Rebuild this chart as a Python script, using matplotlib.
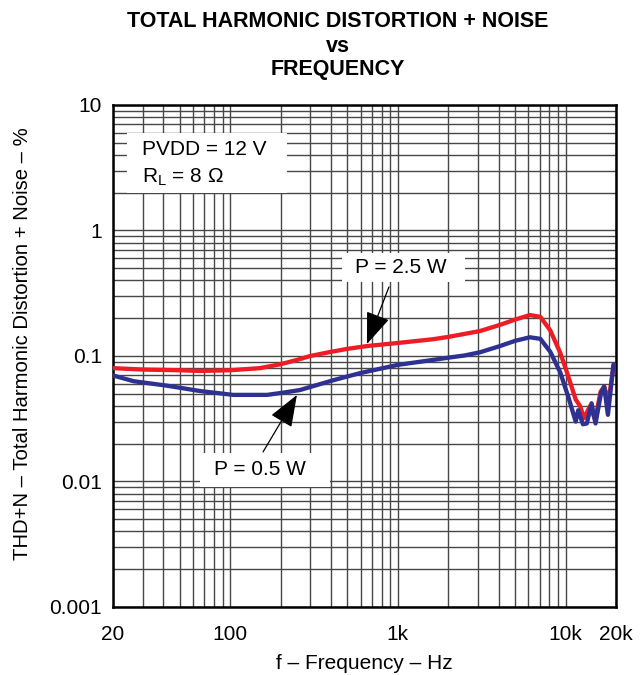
import matplotlib
matplotlib.use('Agg')
import matplotlib.pyplot as plt
from matplotlib.patches import Rectangle
from matplotlib.ticker import FixedLocator, NullFormatter

plt.rcParams['font.family'] = ['Liberation Sans', 'DejaVu Sans']

# THD+N vs frequency
freq_2w5 = [20, 30, 50, 66, 100, 150, 200, 250, 300, 400, 500, 654, 1000,
            1618, 2000, 3085, 4064, 5000, 6130, 7077, 8110, 9300, 10200,
            11500, 12200, 12900, 14000, 15000, 16200, 17000, 17800, 18500,
            19400, 20000]
thd_2w5 = [0.080, 0.078, 0.077, 0.076, 0.077, 0.080, 0.086, 0.093, 0.100,
           0.108, 0.114, 0.120, 0.127, 0.136, 0.142, 0.158, 0.177, 0.195,
           0.212, 0.205, 0.160, 0.106, 0.074, 0.045, 0.040, 0.032, 0.040,
           0.031, 0.052, 0.057, 0.045, 0.055, 0.085, 0.080]

freq_0w5 = [20, 26.5, 42, 66, 104, 166, 206, 260, 410, 594, 1000, 1618,
            2000, 2500, 3085, 4064, 5000, 6130, 7077, 8110, 9300, 10400,
            11500, 11900, 12700, 13400, 14300, 15100, 16300, 17000, 17900,
            19300, 20000]
thd_0w5 = [0.070, 0.063, 0.058, 0.0526, 0.049, 0.049, 0.051, 0.0535, 0.064,
           0.073, 0.085, 0.093, 0.097, 0.101, 0.107, 0.120, 0.132, 0.141,
           0.137, 0.108, 0.074, 0.047, 0.030, 0.037, 0.0286, 0.029, 0.042,
           0.029, 0.051, 0.057, 0.034, 0.085, 0.080]

x_ticks = [20, 100, 1000, 10000, 20000]
x_labels = ['20', '100', '1k', '10k', '20k']
y_ticks = [0.001, 0.01, 0.1, 1, 10]
y_labels = ['0.001', '0.01', '0.1', '1', '10']

red = '#ee1c25'
blue = '#2e3192'
fs = 15


def px(x, y):
    # figure pixel -> axes fraction
    return (x - 113) / 503.0, (607 - y) / 502.0


fig = plt.figure(figsize=(6.43, 6.75), dpi=100)
ax = fig.add_axes([113 / 643, 68 / 675, 503 / 643, 502 / 675])
ax.set_xscale('log')
ax.set_yscale('log')
ax.set_xlim(20, 20000)
ax.set_ylim(0.001, 10)

# grid: minor lines stop at 10k on the x axis
x_minor = [m * 10**e for e in (1, 2, 3) for m in range(2, 10)
           if 20 < m * 10**e < 10000]
y_minor = [m * 10.0**e for e in (-3, -2, -1, 0) for m in range(2, 10)]
ax.xaxis.set_major_locator(FixedLocator(x_ticks))
ax.xaxis.set_minor_locator(FixedLocator(x_minor))
ax.yaxis.set_major_locator(FixedLocator(y_ticks))
ax.yaxis.set_minor_locator(FixedLocator(y_minor))
ax.xaxis.set_minor_formatter(NullFormatter())
ax.yaxis.set_minor_formatter(NullFormatter())
ax.set_xticklabels(x_labels)
ax.set_yticklabels(y_labels)
ax.tick_params(which='both', length=0, labelsize=fs)
ax.tick_params(axis='x', pad=13)
ax.tick_params(axis='y', pad=8)
ax.grid(True, which='both', color='0.28', lw=1.0)
ax.set_axisbelow(True)
for s in ax.spines.values():
    s.set_linewidth(1.8)

ax.plot(freq_2w5, thd_2w5, color=red, lw=3.1, solid_joinstyle='round',
        solid_capstyle='round', zorder=3)
ax.plot(freq_0w5, thd_0w5, color=blue, lw=3.1, solid_joinstyle='round',
        solid_capstyle='round', zorder=3)

# white label boxes
for (x0, y0, x1, y1) in [(127, 133, 287, 193), (342, 253, 465, 282),
                         (200, 453, 330, 487)]:
    a0, b0 = px(x0, y1)
    a1, b1 = px(x1, y0)
    ax.add_patch(Rectangle((a0, b0), a1 - a0, b1 - b0, transform=ax.transAxes,
                           fc='white', ec='none', zorder=2.5))

ax.text(*px(142, 155), 'PVDD = 12 V', fontsize=fs, ha='left', va='baseline',
        transform=ax.transAxes, zorder=4)
ax.text(*px(142, 182), 'R$_\\mathregular{L}$ = 8 \u03a9', fontsize=fs,
        ha='left', va='baseline', transform=ax.transAxes, zorder=4)
ax.text(*px(401, 273), 'P = 2.5 W', fontsize=fs, ha='center', va='baseline',
        transform=ax.transAxes, zorder=4)
ax.text(*px(260, 475), 'P = 0.5 W', fontsize=fs, ha='center', va='baseline',
        transform=ax.transAxes, zorder=4)

arrow = dict(arrowstyle='-|>,head_length=1.0,head_width=0.38',
             color='black', lw=0.9, mutation_scale=20, shrinkA=0, shrinkB=0)
ax.annotate('', xy=(654, 0.1246), xytext=(885, 0.355), arrowprops=arrow,
            zorder=5)
ax.annotate('', xy=(250, 0.0489), xytext=(157, 0.0172), arrowprops=arrow,
            zorder=5)

ax.set_xlabel('f \u2013 Frequency \u2013 Hz', fontsize=fs, va='baseline')
ax.xaxis.set_label_coords(*px(364, 669))
ax.set_ylabel('THD+N \u2013 Total Harmonic Distortion + Noise \u2013 %',
              fontsize=14.6, va='center')
ax.yaxis.set_label_coords(*px(23, 344))

fig.text(338 / 643, 1 - 27 / 675, 'TOTAL HARMONIC DISTORTION + NOISE',
         fontsize=15.5, fontweight='bold', ha='center', va='baseline')
fig.text(338 / 643, 1 - 52 / 675, 'vs', fontsize=15.5, fontweight='bold',
         ha='center', va='baseline')
fig.text(338 / 643, 1 - 75 / 675, 'FREQUENCY', fontsize=15.5,
         fontweight='bold', ha='center', va='baseline')

fig.savefig('out.png', dpi=100)
